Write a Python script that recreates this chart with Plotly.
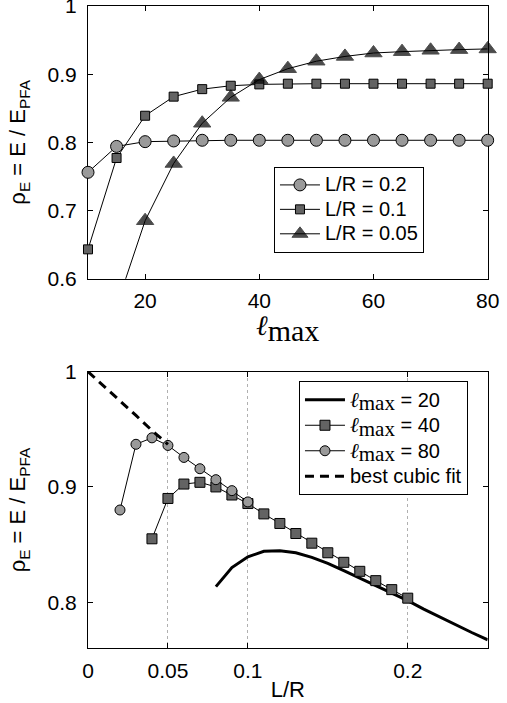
import plotly.graph_objects as go

# ---- upper panel: convergence with l_max for three L/R values ----
lmax = [10, 15, 20, 25, 30, 35, 40, 45, 50, 55, 60, 65, 70, 75, 80]
rho_lr020 = [0.756, 0.794, 0.801, 0.802, 0.803, 0.803, 0.803, 0.803,
             0.803, 0.803, 0.803, 0.803, 0.803, 0.803, 0.803]
rho_lr010 = [0.643, 0.777, 0.839, 0.867, 0.878, 0.883, 0.885, 0.886,
             0.886, 0.886, 0.886, 0.886, 0.886, 0.886, 0.886]
lmax_lr005 = [15, 20, 25, 30, 35, 40, 45, 50, 55, 60, 65, 70, 75, 80]
rho_lr005 = [0.56, 0.685, 0.769, 0.828, 0.866, 0.892, 0.908, 0.919,
             0.926, 0.931, 0.933, 0.935, 0.936, 0.937]

# ---- lower panel: rho_E against L/R ----
lr_l20 = [0.08, 0.09, 0.10, 0.11, 0.12, 0.13, 0.14, 0.15, 0.16, 0.17,
          0.18, 0.19, 0.20, 0.21, 0.22, 0.23, 0.24, 0.25]
rho_l20 = [0.8135, 0.830, 0.8394, 0.8441, 0.8446, 0.8429, 0.8389, 0.8337,
           0.8273, 0.8207, 0.8141, 0.8078, 0.8014, 0.794, 0.787, 0.780,
           0.7737, 0.7674]
lr_l40 = [0.04, 0.05, 0.06, 0.07, 0.08, 0.09, 0.10, 0.11, 0.12, 0.13,
          0.14, 0.15, 0.16, 0.17, 0.18, 0.19, 0.20]
rho_l40 = [0.855, 0.890, 0.9025, 0.904, 0.900, 0.893, 0.8856, 0.8766,
           0.8683, 0.8596, 0.8512, 0.8429, 0.8346, 0.8268, 0.8187, 0.8109,
           0.8035]
lr_l80 = [0.02, 0.03, 0.04, 0.05, 0.06, 0.07, 0.08, 0.09, 0.10]
rho_l80 = [0.880, 0.937, 0.9426, 0.936, 0.9256, 0.9158, 0.9063, 0.8968, 0.887]
lr_fit = [0.0, 0.01, 0.02, 0.03, 0.04, 0.05]
rho_fit = [1.0, 0.9875, 0.975, 0.962, 0.949, 0.937]

top_xticks = [20, 40, 60, 80]
top_yticks = [0.6, 0.7, 0.8, 0.9, 1.0]
top_yticklabels = ["0.6", "0.7", "0.8", "0.9", "1"]
bot_xticks = [0, 0.05, 0.1, 0.2]
bot_xticklabels = ["0", "0.05", "0.1", "0.2"]
bot_yticks = [0.8, 0.9, 1.0]
bot_yticklabels = ["0.8", "0.9", "1"]

SANS = "Liberation Sans, Arial, sans-serif"
LIGHT = "#9a9a9a"
DARK = "#636363"

ymin_top = 0.6


def big(text):
    # legend entries: glyphs at 20px while the row pitch follows the legend font
    return "<span style='font-size:20px'>" + text + "</span>"


ell = ("<span style='font-family:DejaVu Serif;font-size:21px'><i>ℓ</i></span>"
       "<sub><span style='font-family:Liberation Serif;font-size:21px'>max</span></sub>")

fig = go.Figure()

fig.add_trace(go.Scatter(
    x=lmax, y=rho_lr020, mode="lines+markers", name=big("L/R = 0.2"),
    line=dict(color="black", width=1),
    marker=dict(symbol="circle", size=12, color=LIGHT,
                line=dict(color="black", width=1)),
    cliponaxis=False, xaxis="x", yaxis="y", legend="legend"))
fig.add_trace(go.Scatter(
    x=lmax, y=rho_lr010, mode="lines+markers", name=big("L/R = 0.1"),
    line=dict(color="black", width=1),
    marker=dict(symbol="square", size=9, color=DARK,
                line=dict(color="black", width=1)),
    cliponaxis=False, xaxis="x", yaxis="y", legend="legend"))
fig.add_trace(go.Scatter(
    x=lmax_lr005, y=rho_lr005, mode="lines+markers", name=big("L/R = 0.05"),
    line=dict(color="black", width=1),
    marker=dict(symbol="triangle-up", color="black",
                size=[15 if v >= ymin_top else 0 for v in rho_lr005],
                line=dict(color="black", width=1)),
    cliponaxis=False, xaxis="x", yaxis="y", legend="legend"))

fig.add_trace(go.Scatter(
    x=lr_l20, y=rho_l20, mode="lines", name=ell + big(" = 20"),
    line=dict(color="black", width=3),
    xaxis="x2", yaxis="y2", legend="legend2"))
fig.add_trace(go.Scatter(
    x=lr_l40, y=rho_l40, mode="lines+markers", name=ell + big(" = 40"),
    line=dict(color="black", width=1),
    marker=dict(symbol="square", size=10, color=DARK,
                line=dict(color="black", width=1)),
    cliponaxis=False, xaxis="x2", yaxis="y2", legend="legend2"))
fig.add_trace(go.Scatter(
    x=lr_l80, y=rho_l80, mode="lines+markers", name=ell + big(" = 80"),
    line=dict(color="black", width=1),
    marker=dict(symbol="circle", size=10, color=LIGHT,
                line=dict(color="black", width=1)),
    cliponaxis=False, xaxis="x2", yaxis="y2", legend="legend2"))
fig.add_trace(go.Scatter(
    x=lr_fit, y=rho_fit, mode="lines", name=big("best cubic fit"),
    line=dict(color="black", width=3, dash="9px,6px"),
    xaxis="x2", yaxis="y2", legend="legend2"))

axis_common = dict(
    showline=True, linecolor="black", linewidth=1.2, mirror="ticks",
    ticks="inside", ticklen=5, tickwidth=1, tickcolor="black",
    zeroline=False, tickfont=dict(family=SANS, size=21, color="black"),
    layer="below traces", automargin=False, ticklabeloverflow="allow",
)

ytitle = "ρ<sub>E</sub> = E / E<sub>PFA</sub>"

fig.update_layout(
    width=507, height=703,
    margin=dict(l=0, r=0, t=0, b=0, autoexpand=False),
    paper_bgcolor="white", plot_bgcolor="white",
    font=dict(family=SANS, color="black"),
    xaxis=dict(axis_common, domain=[0.1736, 0.9619], range=[10, 80],
               tickvals=top_xticks, showgrid=False, anchor="y",
               ticklabelstandoff=3),
    yaxis=dict(axis_common, domain=[0.6036, 0.9915], range=[0.6, 1.0],
               tickvals=top_yticks, ticktext=top_yticklabels,
               showgrid=False, anchor="x", ticklabelstandoff=6,
               title=dict(text=ytitle, standoff=15,
                          font=dict(family=SANS, size=22))),
    xaxis2=dict(axis_common, domain=[0.1736, 0.9619], range=[0, 0.25],
                tickvals=bot_xticks, ticktext=bot_xticklabels,
                showgrid=True, gridcolor="#b0b0b0", gridwidth=1,
                griddash="dot", anchor="y2", ticklabelstandoff=3,
                title=dict(text="L/R", standoff=0,
                           font=dict(family=SANS, size=22))),
    yaxis2=dict(axis_common, domain=[0.0778, 0.4713], range=[0.76, 1.0],
                tickvals=bot_yticks, ticktext=bot_yticklabels,
                showgrid=False, anchor="x2", ticklabelstandoff=6,
                title=dict(text=ytitle, standoff=15,
                           font=dict(family=SANS, size=22))),
    legend=dict(x=0.5404, y=0.7629, xanchor="left", yanchor="top",
                bgcolor="white", bordercolor="black", borderwidth=1,
                font=dict(family=SANS, size=16.5, color="black"),
                itemwidth=40, tracegroupgap=0),
    legend2=dict(x=0.5897, y=0.458, xanchor="left", yanchor="top",
                 bgcolor="white", bordercolor="black", borderwidth=1,
                 font=dict(family=SANS, size=17.3, color="black"),
                 itemwidth=40, tracegroupgap=0),
    showlegend=True,
    annotations=[dict(
        # x-axis title of the upper panel (script ell with roman subscript)
        text=("<span style='font-family:DejaVu Serif;font-size:28px'><i>ℓ</i></span>"
              "<sub><span style='font-family:Liberation Serif;font-size:30px'>max</span></sub>"),
        xref="paper", yref="paper", x=0.5677, y=1 - 328 / 703,
        xanchor="center", yanchor="middle", showarrow=False,
        font=dict(size=28, color="black"))],
)

fig.write_html("out.html")
